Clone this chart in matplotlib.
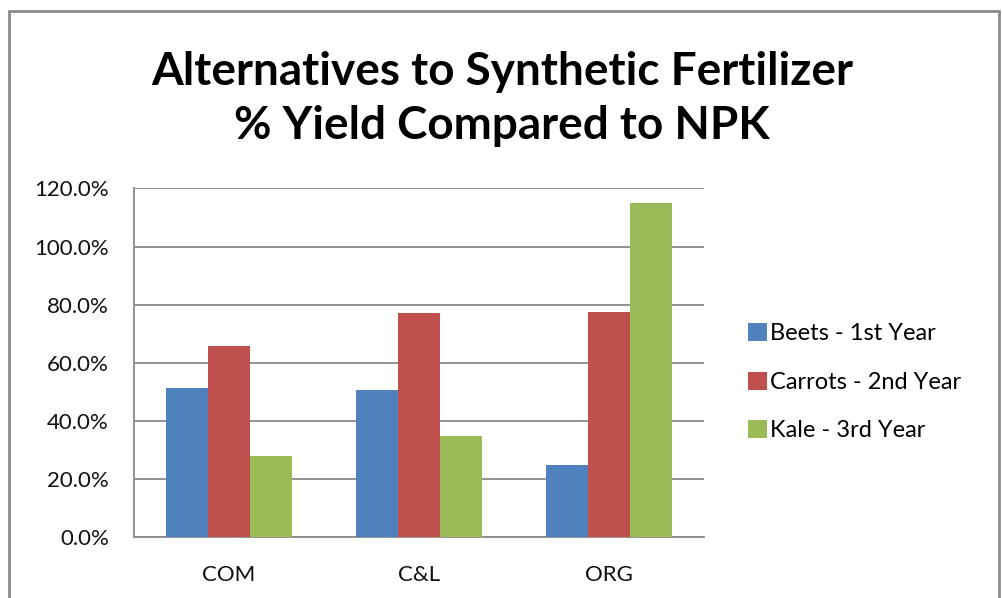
import matplotlib.pyplot as plt
from matplotlib.patches import Rectangle
from matplotlib.ticker import PercentFormatter
import numpy as np

plt.rcParams['font.family'] = ['Lato', 'DejaVu Sans']

categories = ['COM', 'C&L', 'ORG']
series_names = ['Beets - 1st Year', 'Carrots - 2nd Year', 'Kale - 3rd Year']
beets = [51.2, 50.6, 24.9]
carrots = [65.8, 77.0, 77.4]
kale = [28.1, 34.7, 114.9]
colors = ['#4F81BD', '#C0504D', '#9BBB59']


def graph():
    fig = plt.figure(figsize=(10.02, 5.98), dpi=100)
    ax = fig.add_axes([0.1337, 0.1015, 0.569, 0.5835])

    # Excel-style clustered bars, gap width 150%
    x = np.arange(len(categories))
    w = 1 / 4.5
    for i, (vals, name) in enumerate(zip([beets, carrots, kale], series_names)):
        ax.bar(x + (i - 1) * w, vals, width=w, color=colors[i], label=name, zorder=3)

    ax.set_xlim(-0.5, 2.5)
    ax.set_ylim(0, 120)
    ax.set_yticks(np.arange(0, 121, 20))
    ax.yaxis.set_major_formatter(PercentFormatter(decimals=1))
    ax.set_xticks(x, categories)
    ax.grid(axis='y', color='#8a8a8a', lw=1.3, zorder=0)
    for s in ['top', 'right']:
        ax.spines[s].set_visible(False)
    for s in ['left', 'bottom']:
        ax.spines[s].set_color('#8a8a8a')
        ax.spines[s].set_linewidth(1.3)
    ax.tick_params(axis='y', length=0, pad=18, labelsize=16, labelcolor='#111111')
    ax.tick_params(axis='x', length=0, pad=20, labelsize=16, labelcolor='#111111')

    fig.legend(loc='center left', bbox_to_anchor=(0.7465, 0.361), frameon=False,
               fontsize=17, handlelength=0.8, handleheight=0.8,
               handletextpad=0.15, labelspacing=1.15, borderpad=0,
               borderaxespad=0)

    fig.text(0.501, 0.834, 'Alternatives to Synthetic Fertilizer\n% Yield Compared to NPK',
             ha='center', va='center', fontsize=33, fontweight='bold',
             linespacing=1.35)

    fig.patches.append(Rectangle((9 / 1002, -0.01), 990 / 1002, 1 - 11 / 598 + 0.01,
                                 transform=fig.transFigure, fill=False,
                                 edgecolor='#8c8c8c', lw=2))
    fig.savefig('out.png', dpi=100)


if __name__ == '__main__':
    graph()
